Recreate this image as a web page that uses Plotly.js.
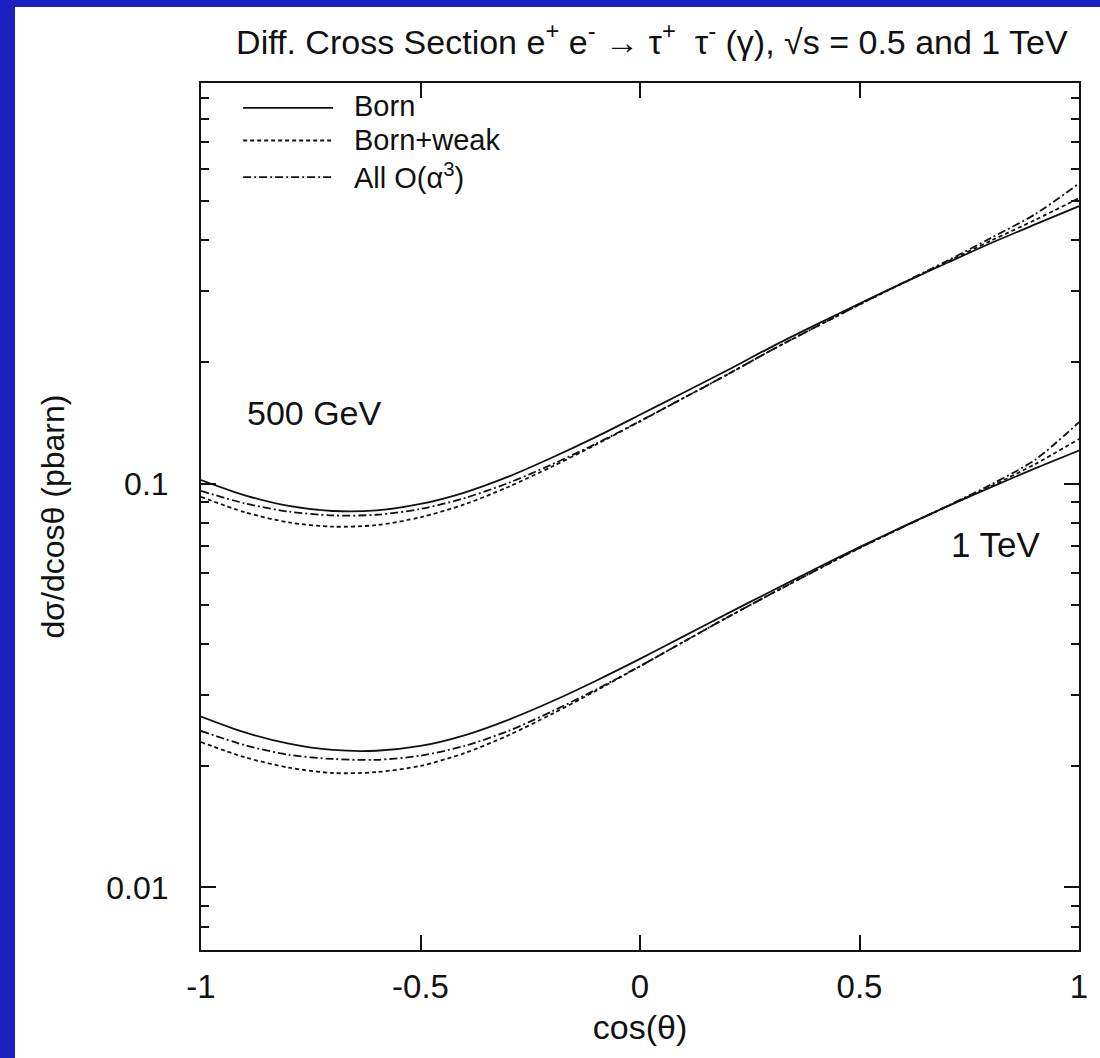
<!DOCTYPE html>
<html>
<head>
<meta charset="utf-8">
<script src="https://cdn.plot.ly/plotly-3.0.1.min.js"></script>
<style>
  html, body { margin: 0; padding: 0; width: 1100px; height: 1058px; overflow: hidden; background: #1b20c0; }
  #chart { position: absolute; left: 15px; top: 7px; width: 1085px; height: 1051px; background: #fff; }
</style>
</head>
<body>
<div id="chart"></div>
<script>
// cos(theta) sample points
const cosTheta = [-1.0,-0.9,-0.8,-0.7,-0.6,-0.5,-0.4,-0.3,-0.2,-0.1,0.0,0.1,0.2,0.3,0.4,0.5,0.6,0.7,0.8,0.9,1.0];

// sqrt(s) = 500 GeV (pb)
const born500 = [0.102,0.0935,0.0880,0.0855,0.0858,0.0890,0.0950,0.1040,0.1160,0.1305,0.148,0.168,0.191,0.218,0.247,0.279,0.314,0.352,0.394,0.438,0.486];
const weak500 = [0.0927,0.0849,0.0801,0.0782,0.0789,0.0825,0.0888,0.0981,0.1102,0.1249,0.1425,0.1630,0.1864,0.2141,0.2440,0.2773,0.314,0.3541,0.3995,0.4494,0.5088];
const all500  = [0.0959,0.0893,0.0852,0.0834,0.0837,0.0865,0.0920,0.1003,0.1116,0.1255,0.1428,0.1630,0.1864,0.2141,0.2440,0.2776,0.3146,0.3562,0.4058,0.4643,0.5531];

// sqrt(s) = 1 TeV (pb)
const born1000 = [0.0265,0.0242,0.0227,0.0219,0.0218,0.0224,0.0238,0.0260,0.0289,0.0325,0.0368,0.0419,0.0477,0.0542,0.0615,0.0696,0.0783,0.0878,0.0980,0.1090,0.1207];
const weak1000 = [0.0229,0.0210,0.0198,0.0192,0.0193,0.0200,0.0215,0.0238,0.0269,0.0307,0.0353,0.0406,0.0467,0.0534,0.0609,0.0692,0.0781,0.0878,0.0985,0.1117,0.1289];
const all1000  = [0.0244,0.0225,0.0213,0.0208,0.0207,0.0212,0.0224,0.0244,0.0273,0.0309,0.0353,0.0406,0.0467,0.0534,0.0609,0.0693,0.0781,0.0880,0.0995,0.1145,0.1418];

const seriesNames = ['Born', 'Born+weak', 'All O(α<sup>3</sup>)'];
const xTickVals = [-1, -0.5, 0, 0.5, 1];
const xTickText = ['-1', '-0.5', '0', '0.5', '1'];
const yTickVals = [0.01, 0.1, 1];
const yTickText = ['0.01', '0.1', '1'];
const yMinorVals = [0.007,0.008,0.009,0.02,0.03,0.04,0.05,0.06,0.07,0.08,0.09,0.2,0.3,0.4,0.5,0.6,0.7,0.8,0.9];

const FONT = 'Liberation Sans, Arial, sans-serif';
const INK = '#111';
const dashes = ['solid', '4px,3px', '8px,3px,2px,3px'];

function tr(y, dash) {
  return { x: cosTheta, y: y, type: 'scatter', mode: 'lines', line: { color: INK, width: 1.8, dash: dash, shape: 'spline', smoothing: 0.8 }, showlegend: false, hoverinfo: 'x+y' };
}
const data = [
  tr(born500, dashes[0]), tr(weak500, dashes[1]), tr(all500, dashes[2]),
  tr(born1000, dashes[0]), tr(weak1000, dashes[1]), tr(all1000, dashes[2])
];

// custom legend (sample lines + labels)
const legY = [0.9712, 0.9337, 0.8914];
const legTextY = [0.9735, 0.9345, 0.8925];
const shapes = [];
const annotations = [];
for (let i = 0; i < 3; i++) {
  shapes.push({ type: 'line', xref: 'x', yref: 'paper', x0: -0.904, x1: -0.699, y0: legY[i], y1: legY[i], line: { color: INK, width: 1.8, dash: dashes[i] } });
  annotations.push({ xref: 'x', yref: 'paper', x: -0.655, y: legTextY[i], xanchor: 'left', yanchor: 'middle', text: seriesNames[i], showarrow: false, font: { family: FONT, size: 29, color: INK } });
}
annotations.push({ xref: 'x', yref: 'y', x: -0.9, y: -0.826, xanchor: 'left', yanchor: 'middle', text: '500 GeV', showarrow: false, font: { family: FONT, size: 34, color: INK } });
annotations.push({ xref: 'x', yref: 'y', x: 0.703, y: -1.152, xanchor: 'left', yanchor: 'middle', text: '1 TeV', showarrow: false, font: { family: FONT, size: 35, color: INK } });

const layout = {
  width: 1085, height: 1051,
  margin: { l: 186, r: 21, t: 76, b: 108 },
  paper_bgcolor: '#fff', plot_bgcolor: '#fff',
  font: { family: FONT, size: 32, color: INK },
  title: { text: 'Diff. Cross Section e<sup>+</sup> e<sup>-</sup> → τ<sup>+</sup>  τ<sup>-</sup> (γ), √s = 0.5 and 1 TeV', x: 0.587, xanchor: 'center', y: 0.967, yanchor: 'middle', font: { family: FONT, size: 34, color: INK } },
  xaxis: {
    range: [-1, 1], tickmode: 'array', tickvals: xTickVals, ticktext: xTickText,
    ticks: 'inside', ticklen: 15, tickwidth: 2, tickcolor: INK, mirror: 'allticks',
    showline: true, linecolor: INK, linewidth: 2, showgrid: false, zeroline: false,
    ticklabelstandoff: 6, tickfont: { family: FONT, size: 33, color: INK },
    title: { text: 'cos(θ)', standoff: 12, font: { family: FONT, size: 34, color: INK } }
  },
  yaxis: {
    type: 'log', range: [Math.log10(0.007), Math.log10(0.981)],
    tickmode: 'array', tickvals: yTickVals, ticktext: yTickText,
    ticks: 'inside', ticklen: 15, tickwidth: 2, tickcolor: INK, mirror: 'allticks',
    minor: { tickmode: 'array', tickvals: yMinorVals, ticks: 'inside', ticklen: 8, tickwidth: 2, tickcolor: INK, showgrid: false },
    showline: true, linecolor: INK, linewidth: 2, showgrid: false, zeroline: false,
    ticklabelstandoff: 24, tickfont: { family: FONT, size: 32, color: INK },
    title: { text: 'dσ/dcosθ (pbarn)', standoff: 32, font: { family: FONT, size: 32, color: INK } }
  },
  shapes: shapes,
  annotations: annotations,
  showlegend: false
};

Plotly.newPlot('chart', data, layout, { displayModeBar: false, staticPlot: true });
</script>
</body>
</html>
